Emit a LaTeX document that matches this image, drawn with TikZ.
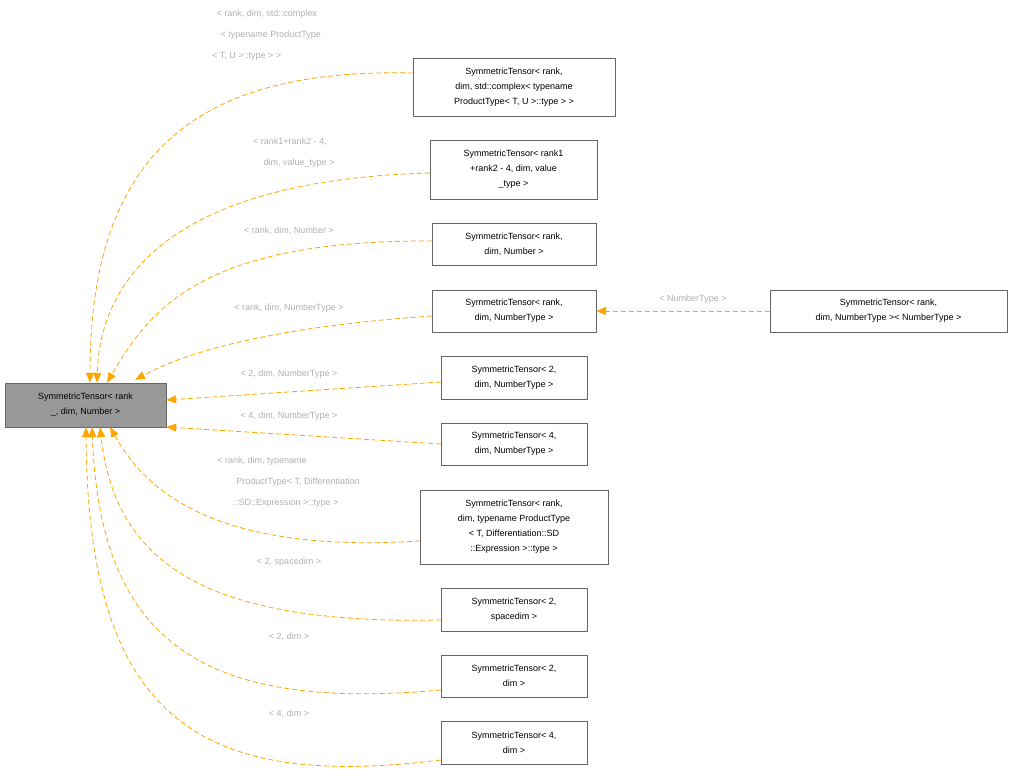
\documentclass[tikz,border=0pt]{standalone}
\usepackage{fontspec}
\setmainfont{Liberation Sans}
\usetikzlibrary{arrows.meta}
\definecolor{edge}{HTML}{FFA500}
\definecolor{lbl}{HTML}{B0B0B0}
\definecolor{bd}{HTML}{666666}
\begin{document}
\begin{tikzpicture}[x=1pt,y=-1pt,
 box/.style={draw=bd,fill=white,align=center,inner sep=0pt,font=\fontsize{9}{15}\selectfont},
 lab/.style={text=lbl,align=center,font=\fontsize{9}{21}\selectfont,inner sep=0pt},
 inh/.style={draw=edge,dashed,dash pattern=on 5pt off 3pt,line width=0.8pt,-{Triangle[length=10pt,width=8pt,fill=edge]}}]
\useasboundingbox (0,0) rectangle (1014,776);
\node[box,fill={rgb,255:red,153;green,153;blue,153},minimum width=161,minimum height=44] (main) at (85.5,405) {SymmetricTensor< rank\\\_, dim, Number >};
\node[box,minimum width=202,minimum height=58] (b1) at (514,87) {SymmetricTensor< rank,\\ dim, std::complex< typename\\ ProductType< T, U >::type > >};
\node[box,minimum width=167,minimum height=59] (b2) at (513.5,169.5) {SymmetricTensor< rank1\\+rank2 - 4, dim, value\\\_type >};
\node[box,minimum width=164,minimum height=42] (b3) at (514,244) {SymmetricTensor< rank,\\ dim, Number >};
\node[box,minimum width=164,minimum height=42] (b4) at (514,311) {SymmetricTensor< rank,\\ dim, NumberType >};
\node[box,minimum width=237,minimum height=42] (b5) at (888.5,311) {SymmetricTensor< rank,\\ dim, NumberType >< NumberType >};
\node[box,minimum width=146,minimum height=43] (b6) at (514,377.5) {SymmetricTensor< 2,\\ dim, NumberType >};
\node[box,minimum width=146,minimum height=42] (b7) at (514,444) {SymmetricTensor< 4,\\ dim, NumberType >};
\node[box,minimum width=188,minimum height=74] (b8) at (514,527) {SymmetricTensor< rank,\\ dim, typename ProductType\\< T, Differentiation::SD\\::Expression >::type >};
\node[box,minimum width=146,minimum height=43] (b9) at (514,609.5) {SymmetricTensor< 2,\\ spacedim >};
\node[box,minimum width=146,minimum height=42] (b10) at (514,676) {SymmetricTensor< 2,\\ dim >};
\node[box,minimum width=146,minimum height=43] (b11) at (514,742.5) {SymmetricTensor< 4,\\ dim >};

\draw[inh] (b1.west |- 0,73) .. controls (200,68) and (90,150) .. ([xshift=4.5pt]main.north);
\draw[inh] (b2.west |- 0,173) .. controls (170,180) and (100,280) .. ([xshift=11.5pt]main.north);
\draw[inh] (b3.west |- 0,241) .. controls (200,240) and (150,310) .. ([xshift=21.5pt]main.north);
\draw[inh] (b4.west |- 0,316) .. controls (300,325) and (200,345) .. ([xshift=49.5pt,yshift=3pt]main.north);
\draw[inh] (b5.west) -- (b4.east);
\draw[inh] (b6.west |- 0,382) -- (main.east |- 0,400);
\draw[inh] (b7.west |- 0,444) -- (main.east |- 0,427);
\draw[inh] (b8.west |- 0,541) .. controls (200,555) and (140,480) .. ([xshift=24.5pt]main.south);
\draw[inh] (b9.west |- 0,620) .. controls (200,625) and (115,560) .. ([xshift=14.5pt]main.south);
\draw[inh] (b10.west |- 0,690) .. controls (200,712) and (100,640) .. ([xshift=6.5pt]main.south);
\draw[inh] (b11.west |- 0,760) .. controls (200,790) and (88,720) .. ([xshift=0.5pt]main.south);

\node[lab,anchor=north west] (l1) at (212,10) {< rank, dim, std::complex\\\hspace*{8pt}< typename ProductType\\< T, U >::type > >\hspace*{40pt}};
\node[lab] (l2) at (290,152.5) {< rank1+rank2 - 4,\\\hspace*{18pt}dim, value\_type >};
\node[lab] (l3) at (289,231) {< rank, dim, Number >};
\node[lab] (l4) at (289,308) {< rank, dim, NumberType >};
\node[lab] (l5) at (693,299) {< NumberType >};
\node[lab] (l6) at (289,374) {< 2, dim, NumberType >};
\node[lab] (l7) at (289,416) {< 4, dim, NumberType >};
\node[lab] (l8) at (290,482) {< rank, dim, typename\hspace*{56pt}\\\hspace*{16pt}ProductType< T, Differentiation\\::SD::Expression >::type >\hspace*{8pt}};
\node[lab] (l9) at (289,562) {< 2, spacedim >};
\node[lab] (l10) at (289,637) {< 2, dim >};
\node[lab] (l11) at (289,714) {< 4, dim >};
\end{tikzpicture}
\end{document}
